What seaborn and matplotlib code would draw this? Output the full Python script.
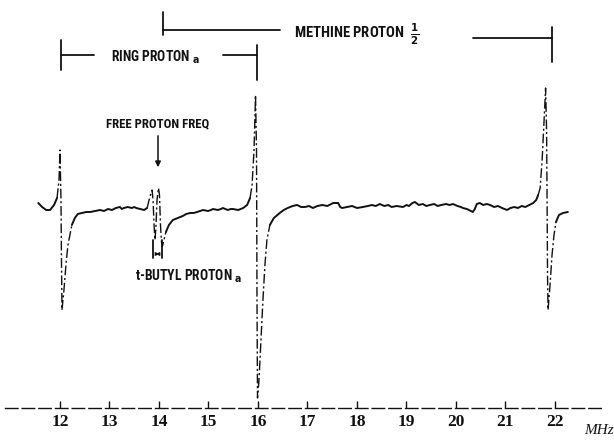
import numpy as np
import pandas as pd
import matplotlib
matplotlib.use("Agg")
import matplotlib.pyplot as plt
import seaborn as sns

# ---- data (frequency in MHz, signal in arbitrary units) ----
freq_mhz = [11.56, 11.64, 11.72, 11.80, 11.88, 11.94, 11.98, 12.00, 12.02, 12.03, 12.04,
            12.08, 12.12, 12.16, 12.20, 12.24, 12.30, 12.36, 12.44, 12.53, 12.61, 12.71,
            12.81, 12.89, 12.97, 13.05, 13.13, 13.21, 13.25, 13.29, 13.37, 13.45, 13.50,
            13.54, 13.62, 13.70, 13.76, 13.80, 13.84, 13.86, 13.88, 13.90, 13.92, 13.94,
            13.96, 13.99, 14.01, 14.03, 14.05, 14.07, 14.10, 14.14, 14.20, 14.28, 14.38,
            14.48, 14.55, 14.63, 14.70, 14.77, 14.83, 14.89, 14.99, 15.05, 15.09, 15.19,
            15.25, 15.29, 15.39, 15.45, 15.49, 15.60, 15.65, 15.70, 15.78, 15.84, 15.88,
            15.92, 15.95, 15.97, 15.98, 15.99, 16.02, 16.06, 16.10, 16.14, 16.18, 16.24,
            16.32, 16.44, 16.52, 16.60, 16.70, 16.79, 16.87, 16.95, 17.03, 17.11, 17.20,
            17.30, 17.40, 17.52, 17.62, 17.66, 17.70, 17.80, 17.90, 18.00, 18.12, 18.22,
            18.30, 18.38, 18.46, 18.55, 18.63, 18.70, 18.80, 18.93, 19.00, 19.05, 19.12,
            19.17, 19.25, 19.33, 19.40, 19.47, 19.56, 19.63, 19.70, 19.80, 19.87, 19.94,
            20.03, 20.10, 20.14, 20.22, 20.30, 20.34, 20.38, 20.42, 20.48, 20.55, 20.62,
            20.69, 20.77, 20.85, 20.93, 21.03, 21.10, 21.18, 21.25, 21.33, 21.40, 21.48,
            21.56, 21.62, 21.66, 21.70, 21.74, 21.78, 21.81, 21.83, 21.84, 21.85, 21.86,
            21.90, 21.94, 21.98, 22.02, 22.08, 22.16, 22.26]
signal = [7, 3, 0, 0, 5, 12, 30, 60, 10, -50, -100,
          -80, -55, -35, -25, -15, -8, -4, -3, -2, -2, -1,
          0, -1, 1, 0, 2, 3, 1, 2, 3, 2, 3,
          2, 1, 0, 2, 10, 17, 20, 10, -15, -30, -15,
          10, 22, 15, -15, -32, -36, -30, -22, -15, -10, -8,
          -6, -4, -3, -3, -2, -1, 0, -1, 0, 1, 0,
          1, 2, 0, 1, 1, 0, 1, 2, 5, 12, 25,
          60, 115, 60, -90, -188, -170, -130, -90, -55, -30, -15,
          -8, -3, 0, 2, 4, 5, 3, 3, 4, 2, 4,
          5, 4, 7, 7, 3, 2, 3, 4, 2, 3, 4,
          5, 4, 6, 4, 5, 3, 4, 3, 5, 4, 7,
          8, 5, 6, 4, 5, 6, 4, 5, 6, 5, 6,
          4, 3, 2, 1, -1, -2, 1, 6, 7, 5, 6,
          5, 3, 4, 2, 0, 2, 3, 2, 4, 3, 5,
          7, 10, 15, 22, 50, 90, 122, 80, 10, -70, -100,
          -75, -45, -25, -12, -5, -3, -2]

tick_mhz = [12, 13, 14, 15, 16, 17, 18, 19, 20, 21, 22]

ring_bracket = (12.02, 15.98)
methine_bracket = (14.08, 21.94)
free_proton_mhz = 13.98
tbutyl_pair = (13.88, 14.06)

# ---- figure ----
sns.set_theme(style="white")
plt.rcParams["font.family"] = ["DejaVu Sans"]
fig = plt.figure(figsize=(6.14, 4.41), dpi=100)
ax = fig.add_axes([0, 0, 1, 1])
ax.set_facecolor("white")
fig.patch.set_facecolor("white")

ink = "#111111"
df = pd.DataFrame({"freq": freq_mhz, "signal": signal})

# split trace into fast (steep, pen-dashed) and slow (solid) runs
px_per_mhz = 49.5
f = np.array(freq_mhz, dtype=float)
s = np.array(signal, dtype=float)
slope = np.abs(np.diff(s) / (np.diff(f) * px_per_mhz))
steep = slope > 3.0
start = 0
for i in range(1, len(steep) + 1):
    if i == len(steep) or steep[i] != steep[start]:
        seg = df.iloc[start:i + 1]
        if steep[start]:
            sns.lineplot(data=seg, x="freq", y="signal", ax=ax, color=ink, lw=1.0,
                         linestyle=(0, (7, 2, 1.5, 2)), sort=False, estimator=None)
        else:
            sns.lineplot(data=seg, x="freq", y="signal", ax=ax, color=ink, lw=1.4,
                         sort=False, estimator=None)
        start = i

ax.set_xlim(10.788, 23.192)
ax.set_ylim(-231, 210)

# axis styling: only a dashed baseline with inward ticks
for side in ["left", "top", "right"]:
    ax.spines[side].set_visible(False)
ax.spines["bottom"].set_position(("data", -198))
ax.spines["bottom"].set_linestyle((0, (9, 3)))
ax.spines["bottom"].set_color(ink)
ax.spines["bottom"].set_linewidth(1.0)
ax.spines["bottom"].set_bounds(10.88, 22.98)
ax.set_xticks(tick_mhz)
ax.set_xticklabels([str(t) for t in tick_mhz], fontfamily="Liberation Serif",
                   fontweight="bold", fontsize=12.5, color=ink)
ax.tick_params(axis="x", direction="in", length=5, width=1.0, color=ink, pad=4, bottom=True)
ax.set_yticks([])
ax.set_xlabel("")
ax.set_ylabel("")
ax.text(22.89, -221, "MHz", fontfamily="Liberation Serif", fontstyle="italic",
        fontsize=11, color=ink, ha="center", va="center")

lab = dict(fontfamily=["Roboto Condensed", "Roboto", "DejaVu Sans"], fontweight="bold",
           fontstretch="condensed", color=ink, va="center")

# ring proton bracket
r0, r1 = ring_bracket
ax.plot([r0, r0], [140, 170], color=ink, lw=1.3)
ax.plot([r1, r1], [130, 165], color=ink, lw=1.3)
ax.plot([r0, 12.69], [155, 155], color=ink, lw=1.3)
ax.plot([15.29, r1], [155, 155], color=ink, lw=1.3)
ax.text(13.93, 153, r"RING PROTON $\mathbf{_a}$", ha="center", fontsize=9.8, **lab)

# methine proton bracket
m0, m1 = methine_bracket
ax.plot([m0, m0], [175, 198], color=ink, lw=1.3)
ax.plot([m0, 16.44], [180, 180], color=ink, lw=1.3)
ax.plot([20.34, m1], [172, 172], color=ink, lw=1.3)
ax.plot([m1, m1], [148, 183], color=ink, lw=1.3)
ax.text(18.0, 176, r"METHINE PROTON  $\mathbf{\frac{1}{2}}$", ha="center",
        fontsize=10.5, **lab)

# free proton frequency arrow
ax.text(free_proton_mhz, 86, "FREE PROTON FREQ", ha="center", fontsize=9.2, **lab)
ax.annotate("", xy=(free_proton_mhz, 40), xytext=(free_proton_mhz, 77),
            arrowprops=dict(arrowstyle="-|>", color=ink, lw=1.1, mutation_scale=8))

# t-butyl proton marker
t0, t1 = tbutyl_pair
ax.plot([t0, t0], [-30, -48], color=ink, lw=1.3)
ax.plot([t1, t1], [-30, -48], color=ink, lw=1.3)
ax.annotate("", xy=(t1, -44), xytext=(t0, -44),
            arrowprops=dict(arrowstyle="<|-|>", color=ink, lw=0.8, mutation_scale=5))
ax.text(14.6, -66, r"t-BUTYL PROTON $\mathbf{_a}$", ha="center", fontsize=9.8, **lab)

fig.savefig("out.png", dpi=100, facecolor="white")
